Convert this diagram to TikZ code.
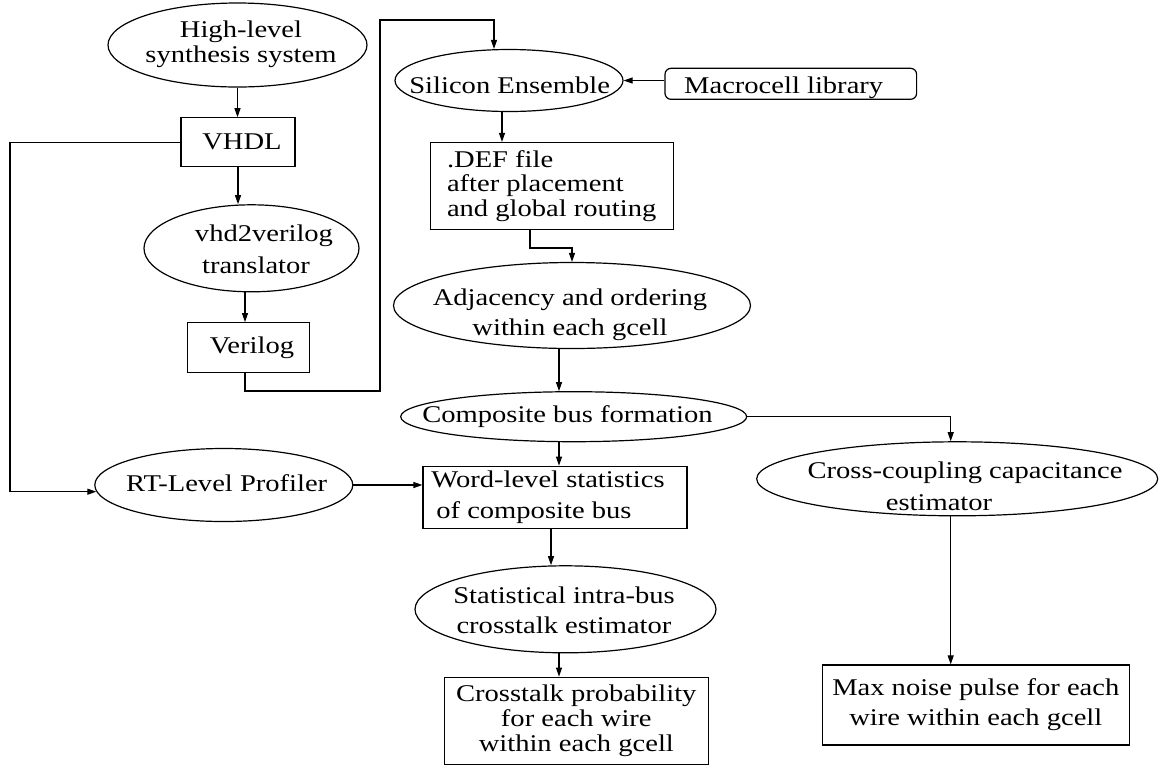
\documentclass[tikz,border=0pt]{standalone}
\usepackage{fontspec}
\setmainfont{Liberation Serif}[FakeStretch=1.19]
\usetikzlibrary{shapes.geometric,arrows.meta}
\begin{document}
\begin{tikzpicture}[x=0.5pt,y=-0.5pt,
  font=\fontsize{12}{12.5}\selectfont,
  outline/.style={draw, line width=0.6pt},
  ell/.style={outline, ellipse, inner sep=0pt},
  box/.style={outline, rectangle, inner sep=0pt, align=center},
  txt/.style={inner sep=0pt, align=center},
  ls/.style={font=\fontsize{12}{#1}\selectfont},
  arr/.style={line width=0.55pt, -{Stealth[length=4.5pt,width=3pt,inset=0pt]}}
]
\useasboundingbox (0,0) rectangle (1163,767);

% ---- left column: synthesis flow ----
\node[ell, minimum width=129.5pt, minimum height=42pt] (hls) at (237.5,45) {};
\node[txt] (hlst) at (241,44) {High-level\\synthesis system};

\node[box, minimum width=57pt, minimum height=24.5pt] (vhdl) at (238,142.3) {\hspace*{4pt}VHDL};

\node[ell, minimum width=107.5pt, minimum height=43.5pt] (v2v) at (251.5,248.3) {};
\node[txt, ls=15.65pt] (v2vt) at (264,249.2) {vhd2verilog\\translator\hspace*{8pt}};

\node[box, minimum width=60.8pt, minimum height=25pt] (verilog) at (248.5,347.7) {\hspace*{3.5pt}Verilog};

\node[ell, minimum width=129pt, minimum height=36.5pt] (rtl) at (223.8,485) {};
\node[txt] (rtlt) at (226.7,483.5) {RT-Level Profiler};

% ---- place and route ----
\node[ell, minimum width=114pt, minimum height=31pt] (sil) at (509,80.5) {};
\node[txt] (silt) at (509.7,85) {Silicon Ensemble};

\node[box, rounded corners=3pt, minimum width=125.8pt, minimum height=15.5pt] (macro) at (790.8,83.8) {};
\node[txt] (macrot) at (783.7,87.7) {Macrocell library};

\node[box, align=left, ls=12.1pt, minimum width=121.5pt, minimum height=43.5pt] (def) at (551.7,186) {.DEF file\\after placement\\and global routing};

\node[ell, minimum width=178.5pt, minimum height=43pt] (adj) at (572,305.5) {};
\node[txt, ls=15pt] (adjt) at (570,314.4) {Adjacency and ordering\\within each gcell};

\node[ell, minimum width=173pt, minimum height=25pt] (comp) at (573.7,416.7) {};
\node[txt] (compt) at (567.5,417) {Composite bus formation};

% ---- intra-bus branch ----
\node[box, align=left, ls=15.85pt, minimum width=132pt, minimum height=31pt] (word) at (555,497.2) {Word-level statistics\hspace*{7pt}\\\hspace*{2.5pt}of composite bus};

\node[ell, minimum width=150.5pt, minimum height=43.5pt] (stat) at (565.5,609.3) {};
\node[txt, ls=15pt] (statt) at (564,610.1) {Statistical intra-bus\\crosstalk estimator};

\node[box, ls=12.5pt, minimum width=132pt, minimum height=43.5pt] (xtalk) at (576.3,720.7) {Crosstalk probability\\for each wire\\within each gcell};

% ---- cross-coupling branch ----
\node[ell, minimum width=200.5pt, minimum height=37pt] (cross) at (957.2,478.8) {};
\node[txt, ls=16pt] (crosst) at (965,485.8) {Cross-coupling capacitance\\estimator\hspace*{26pt}};

\node[box, ls=15pt, minimum width=153.5pt, minimum height=40pt] (maxn) at (975.8,705) {Max noise pulse for each\\wire within each gcell};

% ---- routing helpers for the connectors ----
\coordinate (j1) at (245,391);
\coordinate (j2) at (380,20);
\coordinate (j3) at (494,20);
\coordinate (j4) at (502,0);
\coordinate (j5) at (530,248);
\coordinate (j6) at (559,0);
\coordinate (j7) at (551,0);
\coordinate (j8) at (950.7,0);
\coordinate (j9) at (10,0);

% ---- connectors ----
\draw[arr] (hls.south) -- (hls.south |- vhdl.north);
\draw[arr] (vhdl.south) -- (vhdl.south |- v2v.north);
\draw[arr] (v2v.south -| j1) -- (verilog.north -| j1);
\draw[arr] (j1 |- verilog.south) -- (j1) -| (j2) -- (j3) -- (j3 |- sil.north);
\draw[arr] (macro.west |- sil.east) -- (sil.east);
\draw[arr] (sil.south -| j4) -- (def.north -| j4);
\draw[arr] (def.south -| j5) |- (adj.north |- j5) -- (adj.north);
\draw[arr] (adj.south -| j6) -- (comp.north -| j6);
\draw[arr] (comp.south -| j6) -- (word.north -| j6);
\draw[arr] (word.south -| j7) -- (stat.north -| j7);
\draw[arr] (stat.south -| j6) -- (xtalk.north -| j6);
\draw[arr] (comp.east) -| (j8 |- cross.north);
\draw[arr] (cross.south -| j8) -- (maxn.north -| j8);
\draw[arr] (rtl.east) -- (rtl.east -| word.west);
\draw[arr] (vhdl.west) -| (j9 |- rtl.183) -- (rtl.183);
\end{tikzpicture}
\end{document}
